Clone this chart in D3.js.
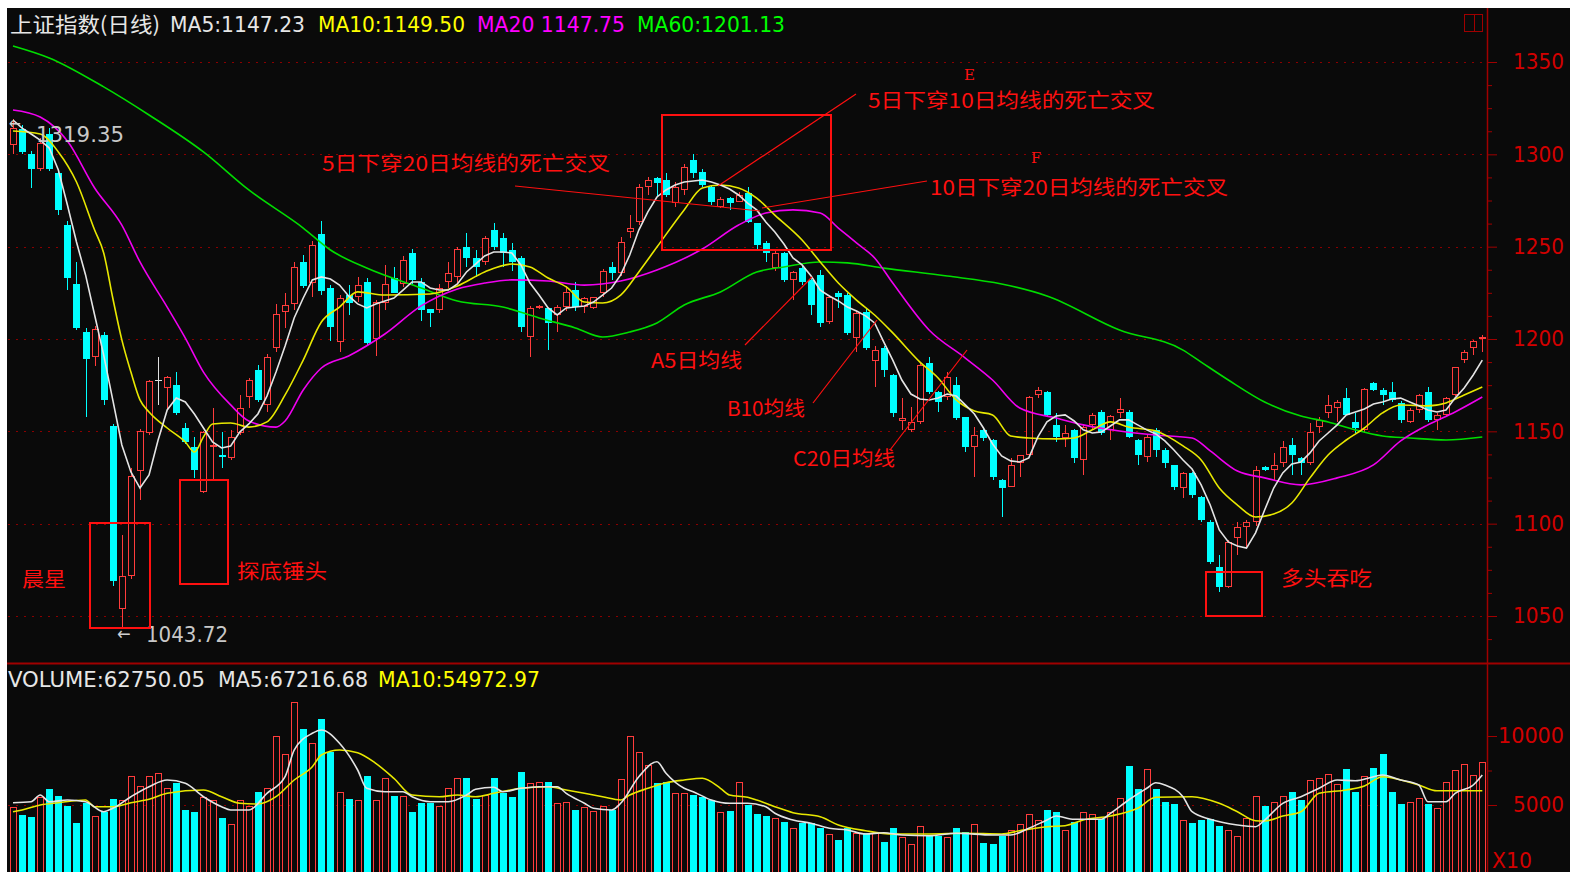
<!DOCTYPE html>
<html><head><meta charset="utf-8">
<script src="https://cdn.jsdelivr.net/npm/d3@7"></script>
<style>html,body{margin:0;padding:0;background:#fff;overflow:hidden}</style>
</head><body>
<svg id="c" width="1570" height="872"></svg>
<script>
// ---------------- DATA ----------------
const openP = [
1305,1313.7,1300,1292,1311,1290,1262,1230,1204,1190,
1202.4,1153,1054,1071.7,1128.7,1149,1177.8,1173.5,1175,1152,
1141.5,1117,1141.5,1137.2,1135.6,1149,1168.6,1183,1164.5,1195,
1214.6,1219,1241.7,1230.3,1257,1227.6,1198.4,1223.8,1222.7,1231,
1200,1219.5,1233,1230,1246.6,1231,1216,1215.7,1231,1233.6,
1250,1244,1241.7,1259,1254.7,1248,1244,1201,1217,1216.8,
1213,1217.3,1226.5,1217.3,1216.8,1225,1239,1236,1258,1263.5,
1282.5,1287,1286,1273.6,1280.7,1297,1290.4,1282.3,1271.5,1276.3,
1274,1279,1262.8,1252,1238.4,1246.6,1232,1238.4,1232,1234.6,
1209,1225,1224,1200.5,1214.6,1188,1195,1180.5,1155.6,1150.7,
1155,1187,1171.3,1168.6,1175,1157.8,1141.5,1150.7,1145.3,1123.6,
1119.9,1132.8,1137.2,1169.7,1171.3,1153.4,1146.4,1150.7,1134.5,1153.4,
1160.5,1150.7,1160,1160.5,1145.3,1136,1150.7,1140,1131.8,1119.3,
1127.4,1114.4,1101,1076.5,1065.7,1092.2,1098.2,1101,1130.7,1129,
1132.8,1142.6,1135.6,1132.8,1152.3,1160,1162.6,1168,1155,1150.7,
1176.2,1172.4,1171.3,1165.3,1155,1161.5,1171.3,1156,1158.8,1169.7,
1188.6,1195,1200];
const highP = [
1319.35,1316,1302,1309,1314,1291,1264,1241.7,1206,1207,
1204,1154,1094,1130,1151,1178,1190,1180,1182,1154.5,
1147,1150,1162.6,1149.6,1150.7,1169.7,1178.9,1186,1192,1219,
1225,1241.5,1245.5,1253,1264,1229,1224,1229,1233.6,1233,
1221,1240,1239,1245,1249,1233,1216.5,1230,1241.7,1250,
1257.4,1248,1256,1263,1257.4,1252,1245,1218,1218.5,1217,
1218.4,1228.7,1231,1223,1223,1238,1241.7,1255,1267,1284,
1287.7,1287.7,1290,1285,1294.7,1300,1292,1283,1277,1277,
1279.6,1282.5,1263,1253,1249,1247,1237,1240,1233,1237.4,
1224,1226,1225,1215,1216,1196,1196,1181,1168,1163,
1187,1190,1172,1182,1179.4,1158,1152.3,1151,1146,1124,
1135.6,1137.2,1169,1174,1172,1160,1153.4,1151,1153.4,1160,
1161.5,1158.8,1168,1161.5,1146,1148,1151.8,1141,1132,1128,
1128,1115,1102,1083,1091,1101,1102,1131,1131,1138.3,
1144.8,1146.4,1136,1154.5,1157.8,1169.7,1167,1173.5,1160,1173.5,
1176.5,1173.5,1176.7,1166.4,1162.6,1170,1174,1160,1168.6,1185,
1194,1199.5,1202];
const lowP = [
1300,1300,1282,1291,1291,1267,1226.5,1205,1157.8,1185.6,
1164,1066,1043.72,1070,1112.8,1148,1164,1161.5,1159,1143,
1124.7,1116.5,1124.2,1130,1134.5,1148,1162.6,1166,1160.5,1193,
1206,1215.7,1227.6,1223,1224,1199,1193,1213,1220,1197,
1191,1215.7,1225,1228,1230,1210,1206.5,1214,1227.6,1230,
1239,1233.6,1240,1248,1239,1237,1204,1190,1216,1194,
1204,1215,1215,1214,1216,1223,1232,1234,1254.7,1262,
1278,1277,1277,1271.5,1278,1287,1282.5,1272.6,1271,1270,
1274,1262.8,1248,1241.7,1237,1231,1221,1229,1213,1206.5,
1208,1217,1202,1193,1194,1174,1179.4,1157.8,1150.7,1149.6,
1154,1170,1160.5,1167,1156,1138.8,1125.3,1145,1123.6,1103.6,
1119.9,1125.3,1136,1168,1158,1144,1141.5,1132.8,1126.4,1150.7,
1148,1145.3,1157.2,1146.4,1131.8,1133.4,1136,1130.1,1118.2,1114,
1113.9,1101,1078,1063,1065,1083,1087.4,1099,1128.6,1123.6,
1130.7,1126.4,1126.4,1131.8,1149,1157.2,1155,1158.8,1149,1149,
1172,1164.3,1165.9,1154.5,1154.5,1160,1155,1150.7,1157.8,1169,
1187,1191.3,1193];
const closeP = [
1314,1301.3,1292,1306,1292,1270,1233,1206,1189,1205.4,
1167,1069,1071.7,1125.8,1150.2,1177,1177.8,1179.5,1160,1144,
1129,1149.6,1142.6,1136,1147,1162.6,1177.8,1167,1190,1213.5,
1218.4,1239,1228.7,1251,1226,1206.5,1222,1219.5,1229,1198,
1220,1230,1225,1243,1232,1215.7,1214,1227.6,1236,1249,
1244,1239,1254.7,1250,1246.6,1241.7,1206.5,1216.8,1218,1208.7,
1217.3,1225.5,1217.3,1222,1222.7,1237,1235.7,1252.5,1260,1282.5,
1286,1284.5,1278,1282.5,1293,1290,1283.4,1274,1275.8,1273.6,
1278,1263.3,1251,1246.6,1246.6,1232,1236.3,1231,1218.4,1208.7,
1222.7,1222.7,1203,1214,1195,1194,1183.2,1160,1157.2,1155,
1186,1171.3,1166,1179.4,1157.2,1141.5,1148,1146.4,1125.3,1119.3,
1131.8,1137.2,1168.6,1172.4,1158.8,1147,1149,1135.6,1152.3,1158.8,
1149,1158.3,1162,1147,1137.2,1147,1140,1132.8,1119.9,1127.4,
1115.5,1102,1079.2,1065.7,1090,1098.2,1101,1129,1129,1131.8,
1141.5,1137.2,1132.8,1149.6,1156,1164.3,1165.9,1158.8,1151.8,1173,
1172.4,1169.7,1167,1156,1161.5,1169.7,1156,1158.8,1168,1184.8,
1193,1199,1201];
const volume = [
4870,4275,4100,5600,6140,5680,4950,3670,5120,4230,
4515,5410,5360,7120,6400,7120,7300,6210,6570,4640,
4515,5600,5360,4080,3620,5360,4950,5960,6250,10020,
8700,12490,10480,9470,11210,8860,5960,5410,5360,7120,
5360,6970,5680,5680,4515,5120,5170,4920,6250,6970,
6970,5410,5720,6970,5840,5550,7410,6570,6690,6690,
5120,5240,4640,4870,4580,4920,4640,6860,10000,8860,
7900,6570,6690,5840,5840,5720,5600,5360,4515,4565,
6690,5000,4348,4227,4034,3744,3309,3720,3671,3309,
2898,2464,3309,2995,2947,2947,2343,3358,2705,2174,
3478,2826,2754,2705,3358,3068,3623,2222,2174,2754,
3188,3623,4348,3913,4638,4517,3188,3792,4517,4348,
3961,4517,5532,7850,6135,7585,6135,5242,5072,3913,
3671,3913,3961,3502,3188,2754,4034,5652,4952,5242,
5652,5966,5362,6811,6980,7246,6521,7585,5966,7101,
7705,8695,5966,5072,5242,5532,5072,4806,6690,7536,
7971,7174,8140];
const ma5 = [
1318.6,1314.2,1311.0,1307.7,1303.4,1291.5,1272.6,1252.5,1234.7,1213.0,
1191.3,1167.0,1142.6,1128.0,1119.3,1126.4,1145.3,1161.6,1168.0,1165.9,
1159.4,1151.8,1144.2,1141.0,1142.1,1149.6,1154.0,1159.4,1169.1,1182.1,
1196.2,1211.4,1222.2,1232.0,1233.6,1232.5,1229.2,1223.3,1219.0,1216.8,
1219.0,1220.6,1222.2,1226.5,1230.9,1230.9,1227.6,1226.5,1226.5,1229.8,
1236.3,1240.6,1245.0,1247.1,1247.1,1246.6,1240.1,1230.3,1223.8,1216.8,
1213.0,1216.8,1217.3,1217.9,1220.0,1223.8,1227.6,1234.7,1245.5,1259.0,
1268.8,1276.9,1280.7,1283.4,1285.0,1285.6,1286.1,1285.0,1283.4,1281.2,
1278.0,1273.6,1269.9,1263.4,1257.9,1251.4,1243.9,1240.1,1234.1,1226.5,
1223.3,1220.6,1217.3,1215.2,1212.5,1208.7,1198.4,1188.6,1177.8,1170.2,
1167.5,1167.0,1168.0,1170.2,1169.1,1164.3,1159.4,1151.8,1143.2,1136.7,
1134.0,1133.4,1135.6,1147.0,1155.1,1158.3,1158.9,1155.6,1150.8,1149.1,
1149.6,1152.9,1156.2,1156.2,1153.5,1150.8,1148.6,1144.8,1139.9,1134.5,
1129.6,1121.0,1110.1,1096.6,1090.1,1087.9,1086.8,1095.0,1107.4,1119.3,
1127.5,1132.3,1133.4,1138.3,1144.8,1149.1,1153.5,1158.9,1160.5,1162.1,
1164.8,1165.9,1167.5,1168.0,1165.9,1163.8,1161.6,1160.5,1161.6,1168.0,
1173.5,1180.5,1188.6];
const ma10 = [[0,1312.6],[3,1311.0],[5,1301.3],[7,1285.0],[9,1259.0],[10,1246.6],[11,1222.2],[12,1199.5],[13,1182.1],[14,1167.0],[15,1160.5],[17,1151.8],[19,1144.2],[20,1138.8],[21,1147.0],[22,1154.0],[24,1154.5],[26,1152.3],[28,1155.1],[30,1169.7],[32,1188.6],[34,1209.2],[36,1217.3],[38,1225.5],[41,1223.8],[46,1224.4],[49,1228.7],[52,1236.3],[55,1240.6],[57,1239.0],[59,1233.0],[61,1228.2],[63,1220.0],[65,1219.5],[67,1223.8],[69,1236.3],[71,1249.8],[74,1269.9],[76,1281.8],[78,1283.4],[80,1281.8],[82,1276.3],[84,1267.1],[87,1253.6],[89,1241.7],[91,1230.3],[93,1221.1],[95,1213.0],[97,1203.3],[100,1187.5],[102,1178.9],[104,1167.0],[106,1161.0],[108,1158.9],[110,1147.5],[112,1146.4],[115,1145.9],[117,1146.4],[119,1150.8],[121,1155.1],[123,1152.3],[126,1150.2],[129,1142.1],[131,1134.5],[133,1119.3],[135,1110.1],[137,1103.6],[139,1105.2],[141,1111.2],[143,1124.8],[145,1137.2],[147,1145.3],[149,1151.8],[151,1160.0],[153,1164.3],[156,1163.8],[158,1165.4],[160,1169.7],[162,1174.0]];
const ma20 = [[0,1324.0],[3,1320.2],[6,1307.2],[9,1281.8],[12,1261.7],[14,1241.7],[17,1217.3],[19,1200.5],[21,1182.1],[24,1164.3],[26,1155.6],[29,1152.3],[30,1155.6],[32,1172.4],[34,1184.3],[37,1190.8],[41,1202.7],[45,1217.9],[49,1227.1],[52,1230.3],[55,1232.0],[59,1231.4],[63,1229.2],[67,1231.4],[71,1237.4],[76,1248.7],[80,1261.7],[83,1268.2],[86,1269.9],[89,1268.2],[91,1260.1],[93,1252.0],[95,1243.9],[97,1230.3],[101,1204.9],[105,1189.7],[108,1177.8],[111,1162.6],[115,1157.2],[118,1153.5],[122,1150.2],[126,1148.0],[130,1146.4],[132,1139.4],[135,1128.5],[138,1124.8],[142,1121.0],[146,1124.8],[150,1131.8],[153,1144.8],[156,1153.5],[159,1160.5],[162,1168.6]];
const ma60 = [[0,1358.7],[4,1352.2],[10,1336.5],[15,1321.3],[21,1301.3],[26,1280.7],[32,1260.1],[35,1248.2],[39,1238.4],[45,1227.6],[49,1220.6],[54,1217.3],[58,1211.4],[62,1206.0],[65,1201.1],[68,1203.8],[71,1208.7],[74,1218.4],[78,1225.5],[82,1236.3],[85,1239.0],[89,1241.7],[92,1241.2],[96,1238.4],[103,1234.1],[109,1229.8],[114,1223.3],[122,1204.9],[129,1194.0],[131,1187.5],[134,1177.8],[138,1165.9],[142,1158.3],[145,1155.1],[148,1150.8],[151,1147.5],[154,1146.4],[158,1145.3],[162,1146.9]];
const volMa5 = [[0,5166],[2,5239],[3,5724],[4,5239],[6,5362],[8,5239],[10,4514],[11,4761],[13,5601],[15,6326],[17,6811],[19,6572],[21,5601],[23,4877],[24,4637],[26,4637],[28,5848],[30,7050],[31,8985],[33,10195],[34,10434],[36,9471],[38,7536],[39,6210],[41,5963],[43,5963],[44,5601],[46,5239],[48,5239],[50,5724],[51,6137],[53,6282],[54,5963],[56,6210],[58,6326],[60,6326],[61,5848],[63,5123],[64,4761],[66,4637],[67,5123],[69,7050],[71,8137],[72,7297],[74,6210],[75,5963],[77,5362],[79,5123],[81,5123],[83,4877],[84,4398],[86,3913],[88,3674],[90,3311],[92,3188],[94,2898],[96,2993],[98,2826],[101,2775],[104,2949],[108,2826],[110,2826],[112,3311],[114,3913],[115,4203],[117,3964],[120,3964],[121,4398],[123,5362],[125,6210],[126,6616],[127,6449],[129,5601],[130,4514],[132,3964],[135,3551],[137,3427],[138,3913],[140,5123],[142,5601],[144,6210],[146,6811],[148,6761],[150,7050],[151,7174],[153,6811],[155,6449],[156,5239],[158,5239],[159,5848],[161,6449],[162,7174]];
const volMa10 = [[0,4514],[1,4637],[3,5000],[5,5166],[8,5362],[9,4877],[11,4877],[13,5166],[15,5413],[17,5848],[21,6087],[23,5601],[25,5123],[27,5072],[29,5601],[31,6811],[33,7775],[34,8623],[36,8985],[38,8789],[40,8021],[42,6934],[44,5724],[47,5601],[49,5724],[51,5601],[53,5848],[56,6210],[59,6326],[61,6087],[63,5848],[65,5601],[67,5362],[68,5724],[70,6210],[72,6616],[74,6811],[76,6934],[78,6210],[79,5724],[81,5558],[82,5362],[84,4877],[86,4442],[89,4152],[91,3551],[94,3137],[97,2898],[101,2898],[105,2949],[109,2898],[111,3137],[114,3427],[116,3500],[118,3913],[121,4203],[124,4761],[126,5558],[130,5601],[133,5123],[135,4514],[137,3862],[138,3840],[140,4203],[142,4514],[144,5848],[147,6087],[149,6376],[151,7050],[153,6811],[155,6449],[157,6036],[160,6036],[162,6036]];
const priceTicks = [1050,1100,1150,1200,1250,1300,1350];
const volTicks = [5000,10000];
const headerItems = [
  {t:"上证指数(日线)", c:"#e6e6e6"}, {t:"MA5:1147.23", c:"#e6e6e6"},
  {t:"MA10:1149.50", c:"#ffff00"}, {t:"MA20 1147.75", c:"#ff00ff"}, {t:"MA60:1201.13", c:"#00ff00"}];
const volHeaderItems = [
  {t:"VOLUME:62750.05", c:"#e6e6e6"}, {t:"MA5:67216.68", c:"#e6e6e6"}, {t:"MA10:54972.97", c:"#ffff00"}];
const noteTexts = ["E","5日下穿10日均线的死亡交叉","F","10日下穿20日均线的死亡交叉","5日下穿20日均线的死亡交叉",
  "A5日均线","B10均线","C20日均线","晨星","探底锤头","多头吞吃"];

// ---------------- DRAWING ----------------
const N = closeP.length;
const svg = d3.select('#c');
const FONT_NUM = '"Liberation Sans Narrow","DejaVu Sans Condensed","Liberation Sans",Arial,sans-serif';
const FONT_CJK = '"Noto Sans CJK SC","Noto Sans",sans-serif';
const UP = '#ff3c3c', DOWN = '#00ffff', GRID = '#8a0000', AXIS = '#a00000', LABEL = '#d20000', NOTE = '#ff1010';

svg.append('rect').attr('x',7).attr('y',8).attr('width',1563).attr('height',864).attr('fill','#0a0a0a');

const defs = svg.append('defs');
defs.append('clipPath').attr('id','clipP').append('rect').attr('x',7).attr('y',8).attr('width',1480).attr('height',655);
defs.append('clipPath').attr('id','clipV').append('rect').attr('x',7).attr('y',664).attr('width',1480).attr('height',208);

const x = d3.scaleLinear().domain([0, N-1]).range([13, 1482.3]);
const y = d3.scaleLinear().domain([1050, 1350]).range([616, 62]);
const yv = d3.scaleLinear().domain([0, 10000]).range([874, 736]);

// grid lines
svg.append('g').selectAll('line').data(priceTicks).join('line')
  .attr('x1',8).attr('x2',1482).attr('y1',d=>Math.round(y(d))+0.5).attr('y2',d=>Math.round(y(d))+0.5)
  .attr('stroke',GRID).attr('stroke-width',1).attr('stroke-dasharray','2,6');
svg.append('line').attr('x1',8).attr('x2',1482).attr('y1',Math.round(yv(5000))+0.5).attr('y2',Math.round(yv(5000))+0.5)
  .attr('stroke',GRID).attr('stroke-dasharray','2,6');

// candles
const bars = d3.range(N).map(i => ({i, o:openP[i], h:highP[i], l:lowP[i], c:closeP[i], v:volume[i]}));
const gc = svg.append('g').attr('clip-path','url(#clipP)');
bars.forEach(d => {
  const cx = Math.round(x(d.i));
  const yo = Math.round(y(d.o)), yc = Math.round(y(d.c)), yh = Math.round(y(d.h)), yl = Math.round(y(d.l));
  if (d.c > d.o) {
    const top = yc, bot = yo;
    gc.append('line').attr('x1',cx+0.5).attr('x2',cx+0.5).attr('y1',yh).attr('y2',top).attr('stroke',UP);
    gc.append('line').attr('x1',cx+0.5).attr('x2',cx+0.5).attr('y1',bot).attr('y2',yl).attr('stroke',UP);
    if (bot - top >= 2) {
      gc.append('rect').attr('x',cx-2.5).attr('y',top+0.5).attr('width',6).attr('height',bot-top-1)
        .attr('fill','#0a0a0a').attr('stroke',UP).attr('stroke-width',1);
    } else {
      gc.append('rect').attr('x',cx-3).attr('y',top).attr('width',7).attr('height',Math.max(1,bot-top+1)).attr('fill',UP);
    }
  } else if (d.c < d.o) {
    gc.append('line').attr('x1',cx+0.5).attr('x2',cx+0.5).attr('y1',yh).attr('y2',yl).attr('stroke',DOWN);
    gc.append('rect').attr('x',cx-3).attr('y',yo).attr('width',7).attr('height',Math.max(1,yc-yo)).attr('fill',DOWN);
  } else {
    gc.append('line').attr('x1',cx+0.5).attr('x2',cx+0.5).attr('y1',yh).attr('y2',yl).attr('stroke','#e0e0e0');
    gc.append('rect').attr('x',cx-3).attr('y',yo).attr('width',7).attr('height',1).attr('fill','#e0e0e0');
  }
});

// MA lines (price)
const lineFull = d3.line().x(d=>x(d[0])).y(d=>y(d[1]));
const lineSmooth = d3.line().x(d=>x(d[0])).y(d=>y(d[1])).curve(d3.curveMonotoneX);
const gl = svg.append('g').attr('clip-path','url(#clipP)').attr('fill','none').attr('stroke-width',1.6);
gl.append('path').attr('d',lineSmooth(ma60)).attr('stroke','#00dd00');
gl.append('path').attr('d',lineSmooth(ma20)).attr('stroke','#f000f0');
gl.append('path').attr('d',lineSmooth(ma10)).attr('stroke','#e8e800');
gl.append('path').attr('d',lineFull(ma5.map((v,i)=>[i,v]))).attr('stroke','#e4e4e4');

// volume bars
const gv = svg.append('g').attr('clip-path','url(#clipV)');
bars.forEach(d => {
  const cx = Math.round(x(d.i));
  const top = Math.round(yv(d.v));
  if (d.c >= d.o) {
    gv.append('rect').attr('x',cx-2.5).attr('y',top+0.5).attr('width',6).attr('height',880-top)
      .attr('fill','#0a0a0a').attr('stroke',UP);
  } else {
    gv.append('rect').attr('x',cx-3).attr('y',top).attr('width',7).attr('height',880-top).attr('fill',DOWN);
  }
});
const lineV = d3.line().x(d=>x(d[0])).y(d=>yv(d[1])).curve(d3.curveMonotoneX);
const glv = svg.append('g').attr('clip-path','url(#clipV)').attr('fill','none').attr('stroke-width',1.6);
glv.append('path').attr('d',lineV(volMa10)).attr('stroke','#e8e800');
glv.append('path').attr('d',lineV(volMa5)).attr('stroke','#e4e4e4');

// frame lines
svg.append('line').attr('x1',1487.5).attr('x2',1487.5).attr('y1',8).attr('y2',872).attr('stroke',AXIS).attr('stroke-width',1.5);
svg.append('line').attr('x1',7).attr('x2',1570).attr('y1',663.5).attr('y2',663.5).attr('stroke',AXIS).attr('stroke-width',2);
svg.append('rect').attr('x',1464.5).attr('y',14.5).attr('width',18).attr('height',17).attr('fill','none').attr('stroke',AXIS);
svg.append('line').attr('x1',1474.5).attr('x2',1474.5).attr('y1',15).attr('y2',31).attr('stroke',AXIS);

// price axis
const minorP = d3.range(1037.5, 1351, 12.5).filter(v => v % 50 !== 0);
const axMinor = svg.append('g').attr('transform','translate(1487,0)')
  .call(d3.axisRight(y).tickValues(minorP).tickSize(5).tickFormat(''));
axMinor.select('.domain').remove();
axMinor.selectAll('line').attr('stroke',AXIS);
const axP = svg.append('g').attr('transform','translate(1487,0)')
  .call(d3.axisRight(y).tickValues(priceTicks).tickSize(10).tickFormat(d3.format('d')));
axP.select('.domain').remove();
axP.selectAll('line').attr('stroke',AXIS);
axP.attr('font-family',FONT_NUM).attr('font-size',21);
axP.selectAll('text').attr('fill',LABEL).attr('x',77).attr('text-anchor','end')
  .attr('textLength',51).attr('lengthAdjust','spacingAndGlyphs');

// volume axis
const axVm = svg.append('g').attr('transform','translate(1487,0)')
  .call(d3.axisRight(yv).tickValues([7500]).tickSize(5).tickFormat(''));
axVm.select('.domain').remove(); axVm.selectAll('line').attr('stroke',AXIS);
const axV = svg.append('g').attr('transform','translate(1487,0)')
  .call(d3.axisRight(yv).tickValues(volTicks).tickSize(10).tickFormat(d3.format('d')));
axV.select('.domain').remove();
axV.selectAll('line').attr('stroke',AXIS);
axV.attr('font-family',FONT_NUM).attr('font-size',21);
axV.selectAll('text').attr('fill',LABEL).attr('x',77).attr('text-anchor','end')
  .attr('textLength',d=>d>=10000?66:51).attr('lengthAdjust','spacingAndGlyphs');
svg.append('text').attr('x',1492).attr('y',868).attr('font-family',FONT_NUM).attr('font-size',21)
  .attr('fill',LABEL).attr('textLength',40).attr('lengthAdjust','spacingAndGlyphs').text('X10');

// headers
const hx = [[10,150],[170,135],[318,147],[477,148],[637,148]];
headerItems.forEach((h,k)=>{
  svg.append('text').attr('x',hx[k][0]).attr('y',32).attr('font-family',k===0?FONT_CJK:FONT_NUM).attr('font-size',21)
    .attr('fill',h.c).attr('textLength',hx[k][1]).attr('lengthAdjust','spacingAndGlyphs').text(h.t);
});
const vx = [[8,197],[218,150],[378,162]];
volHeaderItems.forEach((h,k)=>{
  svg.append('text').attr('x',vx[k][0]).attr('y',687).attr('font-family',FONT_NUM).attr('font-size',21)
    .attr('fill',h.c).attr('textLength',vx[k][1]).attr('lengthAdjust','spacingAndGlyphs').text(h.t);
});

// high / low markers
const iHi = 0, iLo = 12;
svg.append('text').attr('x',9).attr('y',129).attr('font-family',FONT_NUM).attr('font-size',16).attr('fill','#d0d0d0').text('←');
svg.append('text').attr('x',36).attr('y',142).attr('font-family',FONT_NUM).attr('font-size',21).attr('fill','#c8c8c8')
  .attr('textLength',88).attr('lengthAdjust','spacingAndGlyphs').text(d3.format('.2f')(highP[iHi]));
svg.append('text').attr('x',Math.round(x(iLo))-5).attr('y',640).attr('font-family',FONT_NUM).attr('font-size',18).attr('fill','#d0d0d0').text('←');
svg.append('text').attr('x',146).attr('y',642).attr('font-family',FONT_NUM).attr('font-size',21).attr('fill','#c8c8c8')
  .attr('textLength',82).attr('lengthAdjust','spacingAndGlyphs').text(d3.format('.2f')(lowP[iLo]));

// annotation boxes
const ga = svg.append('g').attr('fill','none').attr('stroke',NOTE).attr('stroke-width',2);
[[90,523,60,105],[180,480,48,104],[1206,572,56,44],[662,115,169,135]].forEach(b=>{
  ga.append('rect').attr('x',b[0]).attr('y',b[1]).attr('width',b[2]).attr('height',b[3]);
});
// pointer lines
const gp = svg.append('g').attr('stroke',NOTE).attr('stroke-width',1.2);
[[856,94,718,186],[927,181,762,208],[515,186,760,211],[745,345,812,277],[813,403,877,320],[890,450,967,350]].forEach(p=>{
  gp.append('line').attr('x1',p[0]).attr('y1',p[1]).attr('x2',p[2]).attr('y2',p[3]);
});
// annotation texts
const notePos = [[964,80,11,15],[868,108,287,20],[1031,163,10,15],[930,195,298,20],[322,171,288,20],
  [651,368,91,20],[727,416,78,20],[793,466,102,20],[22,587,44,20],[237,579,90,20],[1281,586,91,20]];
noteTexts.forEach((t,k)=>{
  const p = notePos[k];
  svg.append('text').attr('x',p[0]).attr('y',p[1]).attr('font-family',(t==='E'||t==='F')?'"DejaVu Serif",serif':FONT_CJK)
    .attr('font-size',p[3]).attr('fill',NOTE).attr('textLength',p[2]).attr('lengthAdjust','spacingAndGlyphs').text(t);
});
</script>
</body></html>
